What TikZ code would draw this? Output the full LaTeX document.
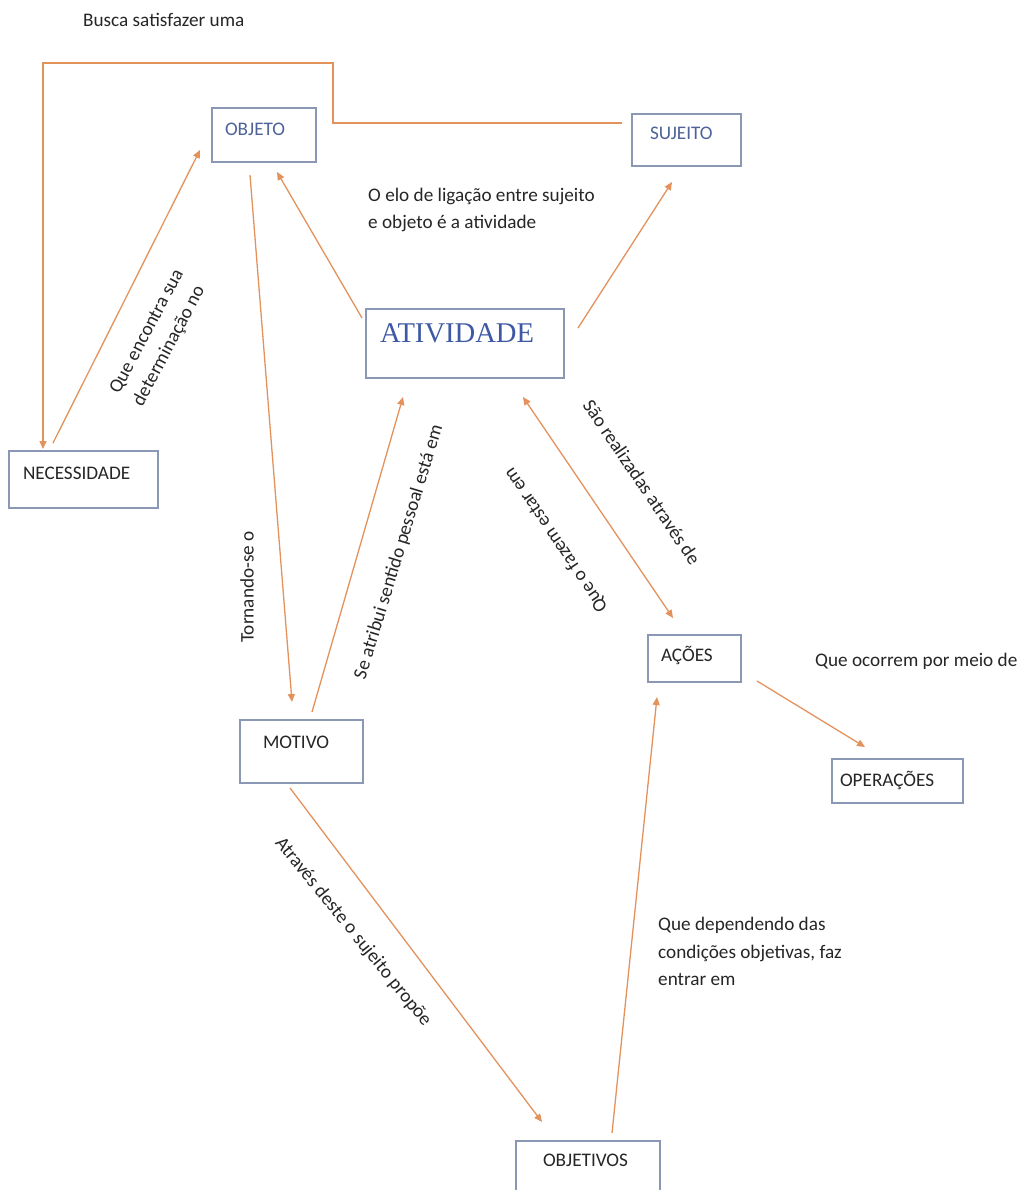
\documentclass[tikz,border=0pt]{standalone}
\usepackage{fontspec}
\setmainfont{Carlito}
\newfontfamily\headfont{Liberation Serif}
\usetikzlibrary{arrows.meta}

\definecolor{linkc}{RGB}{228,146,92}
\definecolor{boxc}{RGB}{138,152,182}
\definecolor{textc}{RGB}{38,38,38}
\definecolor{keyc}{RGB}{78,98,152}
\definecolor{headc}{RGB}{62,88,165}

\begin{document}
\begin{tikzpicture}[x=1pt,y=-1pt,
  font=\fontsize{19.2}{26.5}\selectfont,
  box/.style={draw=boxc,line width=1.5pt,rectangle,anchor=north west,
    align=left,inner ysep=0pt,outer sep=0pt,text=textc},
  link/.style={draw=linkc,line width=1.3pt,-{Triangle[length=8pt,width=7pt]}},
  note/.style={text=textc,inner sep=0pt,align=left}]

\useasboundingbox[fill=white] (0,0) rectangle (1024,1190);

% concept boxes
\node[box,inner xsep=13pt,text width=78pt,text height=28pt,text depth=26pt,text=keyc]
  (objeto) at (212,108) {OBJETO};
\node[box,inner xsep=18pt,text width=73pt,text height=26pt,text depth=26pt,text=keyc]
  (sujeito) at (632,114) {SUJEITO};
\node[box,inner xsep=14pt,text width=170pt,text height=33pt,text depth=36pt,text=headc,
  font=\headfont\fontsize{28.6}{30}\selectfont]
  (atividade) at (366,309) {ATIVIDADE};
\node[box,inner xsep=14pt,text width=121pt,text height=28pt,text depth=29pt]
  (necessidade) at (9,451) {NECESSIDADE};
\node[box,inner xsep=23pt,text width=77pt,text height=28pt,text depth=35pt]
  (motivo) at (240,720) {MOTIVO};
\node[box,inner xsep=13pt,text width=67pt,text height=26pt,text depth=21pt]
  (acoes) at (648,635) {AÇÕES};
\node[box,inner xsep=8pt,text width=115pt,text height=27pt,text depth=17pt]
  (operacoes) at (832,759) {OPERAÇÕES};
\node[box,inner xsep=27pt,text width=90pt,text height=25pt,text depth=35pt]
  (objetivos) at (516,1141) {OBJETIVOS};

% connectors
\draw[link] ([xshift=-10pt,yshift=-9pt]sujeito.north west) -| (333,63)
  -| ([xshift=34pt,yshift=2pt]necessidade.north west);
\draw[link] ([xshift=44pt,yshift=8pt]necessidade.north west)
  -- ([xshift=-12pt,yshift=-42pt]objeto.north west);
\draw[link] ([xshift=38pt,yshift=-13pt]objeto.south west)
  -- ([xshift=52pt,yshift=18pt]motivo.north west);
\draw[link] ([xshift=72pt,yshift=8pt]motivo.north west)
  -- ([xshift=37pt,yshift=-19pt]atividade.south west);
\draw[link] ([xshift=-4pt,yshift=-9pt]atividade.north west)
  -- ([xshift=65pt,yshift=-10pt]objeto.south west);
\draw[link] ([xshift=14pt,yshift=-19pt]atividade.north east)
  -- ([xshift=40pt,yshift=-16pt]sujeito.south west);
\draw[link,{Triangle[length=8pt,width=7pt]}-{Triangle[length=8pt,width=7pt]}]
  ([xshift=157pt,yshift=-19pt]atividade.south west)
  -- ([xshift=25pt,yshift=17pt]acoes.north west);
\draw[link] ([xshift=16pt,yshift=1pt]acoes.south east)
  -- ([xshift=33pt,yshift=12pt]operacoes.north west);
\draw[link] ([xshift=50pt,yshift=-5pt]motivo.south west)
  -- ([xshift=26pt,yshift=19pt]objetivos.north west);
\draw[link] ([xshift=96pt,yshift=8pt]objetivos.north west)
  -- ([xshift=9pt,yshift=-15pt]acoes.south west);

% connector labels
\node[note,anchor=base west] (busca) at (83,27) {Busca satisfazer uma};
\node[note,anchor=north west] (elo) at (368,188)
  {O elo de ligação entre sujeito\\e objeto é a atividade};
\node[note,rotate=62] (encontra) at (159,338) {Que encontra sua\\determinação no};
\node[note,rotate=90] (tornando) at (247,587) {Tornando-se o};
\node[note,rotate=73] (atribui) at (399,552) {Se atribui sentido pessoal está em};
\node[note,rotate=-56] (realizadas) at (642,482) {São realizadas através de};
\node[note,rotate=124] (fazem) at (556,540) {Que o fazem estar em};
\node[note,anchor=base west] (ocorrem) at (815,666) {Que ocorrem por meio de};
\node[note,rotate=-51] (propoe) at (353,932) {Através deste o sujeito propõe};
\node[note,anchor=north west,font=\fontsize{19.2}{27.5}\selectfont] (dependendo) at (658,917)
  {Que dependendo das\\condições objetivas, faz\\entrar em};

\end{tikzpicture}
\end{document}
